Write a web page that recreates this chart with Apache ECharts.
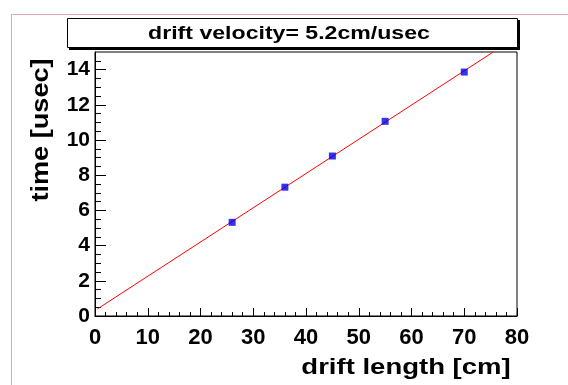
<!DOCTYPE html>
<html>
<head>
<meta charset="utf-8">
<script src="https://cdn.jsdelivr.net/npm/echarts@6/dist/echarts.min.js"></script>
<style>
html,body{margin:0;padding:0;background:#fff;}
#c{width:568px;height:385px;}
</style>
</head>
<body>
<div id="c"></div>
<script>
// ---- data ----
var driftLength = [26, 36, 45, 55, 70];          // cm
var driftTime   = [5.32, 7.32, 9.09, 11.06, 13.86]; // usec
var fitX = [0.5, 75.5];                           // fit line end points (cm)
var fitY = [0.41, 15.0];                          // fit line end points (usec)
var xMajorTicks = [0, 10, 20, 30, 40, 50, 60, 70, 80];
var yMajorTicks = [0, 2, 4, 6, 8, 10, 12, 14];
var yMinorTicks = [0.5, 1, 1.5, 2.5, 3, 3.5, 4.5, 5, 5.5, 6.5, 7, 7.5, 8.5, 9, 9.5,
                   10.5, 11, 11.5, 12.5, 13, 13.5, 14.5];
var titleText = 'drift velocity= 5.2cm/usec';
var xTitle = 'drift length [cm]';
var yTitle = 'time [usec]';

var FONT = '"Liberation Sans", Arial, Helvetica, sans-serif';

var chart = echarts.init(document.getElementById('c'), null, {renderer: 'canvas'});

var scatterData = driftLength.map(function (x, i) { return [x, driftTime[i]]; });
var fitData = fitX.map(function (x, i) { return [x, fitY[i]]; });

var option = {
  backgroundColor: '#ffffff',
  animation: false,
  grid: {
    left: 95, top: 52, width: 422, height: 264,
    show: true, borderColor: '#000', borderWidth: 1, backgroundColor: 'transparent'
  },
  xAxis: {
    type: 'value', min: 0, max: 80, interval: 10,
    axisLine: {show: true, onZero: false, lineStyle: {color: '#000', width: 1}},
    axisTick: {show: true, inside: true, length: 8, lineStyle: {color: '#000'}, customValues: xMajorTicks},
    minorTick: {show: true, splitNumber: 5, length: 4, lineStyle: {color: '#000'}},
    axisLabel: {show: true, customValues: xMajorTicks, color: '#000', fontSize: 22, fontWeight: 'bold', fontFamily: FONT, margin: 11},
    splitLine: {show: false},
    minorSplitLine: {show: false}
  },
  yAxis: [{
    type: 'value', min: 0, max: 15, interval: 2,
    axisLine: {show: true, onZero: false, lineStyle: {color: '#000', width: 1}},
    axisTick: {show: true, inside: true, length: 11, lineStyle: {color: '#000'}, customValues: yMajorTicks},
    axisLabel: {show: true, customValues: yMajorTicks, color: '#000', fontSize: 21, fontWeight: 'bold', fontFamily: FONT, margin: 5},
    splitLine: {show: false}
  }, {
    type: 'value', min: 0, max: 15, interval: 2, position: 'left',
    axisLine: {show: false, onZero: false},
    axisTick: {show: true, inside: true, length: 6, lineStyle: {color: '#000'}, customValues: yMinorTicks},
    axisLabel: {show: false},
    splitLine: {show: false}
  }],
  series: [{
    type: 'line',
    data: fitData,
    showSymbol: false,
    symbol: 'none',
    lineStyle: {color: '#ff0000', width: 1},
    silent: true,
    z: 2
  }, {
    type: 'scatter',
    data: scatterData,
    symbol: 'rect',
    symbolSize: 7,
    itemStyle: {color: '#0000e6', borderWidth: 0},
    z: 3
  }],
  graphic: [
    // pad border
    {type: 'line', shape: {x1: 11.5, y1: 14.5, x2: 568, y2: 14.5}, style: {stroke: '#dcaaaa', lineWidth: 1}, silent: true},
    {type: 'line', shape: {x1: 11.5, y1: 14.5, x2: 11.5, y2: 385}, style: {stroke: '#dcaaaa', lineWidth: 1}, silent: true},
    // title box shadow and box
    {type: 'rect', shape: {x: 69, y: 20, width: 451, height: 30}, style: {fill: '#000'}, silent: true, z: 10},
    {type: 'rect', shape: {x: 67.5, y: 18.5, width: 450, height: 29}, style: {fill: '#fff', stroke: '#000', lineWidth: 1}, silent: true, z: 11},
    {type: 'text', x: 289, y: 34, scaleX: 1.32, z: 12, silent: true,
     style: {x: 0, y: 0, text: titleText, fill: '#000', fontSize: 17.5, fontWeight: 'bold', fontFamily: FONT, align: 'center', verticalAlign: 'middle'}},
    // axis titles
    {type: 'text', x: 406, y: 368, scaleX: 1.25, z: 12, silent: true,
     style: {x: 0, y: 0, text: xTitle, fill: '#000', fontSize: 22, fontWeight: 'bold', fontFamily: FONT, align: 'center', verticalAlign: 'middle'}},
    {type: 'text', x: 41.5, y: 130, rotation: Math.PI / 2, scaleX: 1.13, z: 12, silent: true,
     style: {x: 0, y: 0, text: yTitle, fill: '#000', fontSize: 24, fontWeight: 'bold', fontFamily: FONT, align: 'center', verticalAlign: 'middle'}}
  ]
};
chart.setOption(option);
</script>
</body>
</html>
